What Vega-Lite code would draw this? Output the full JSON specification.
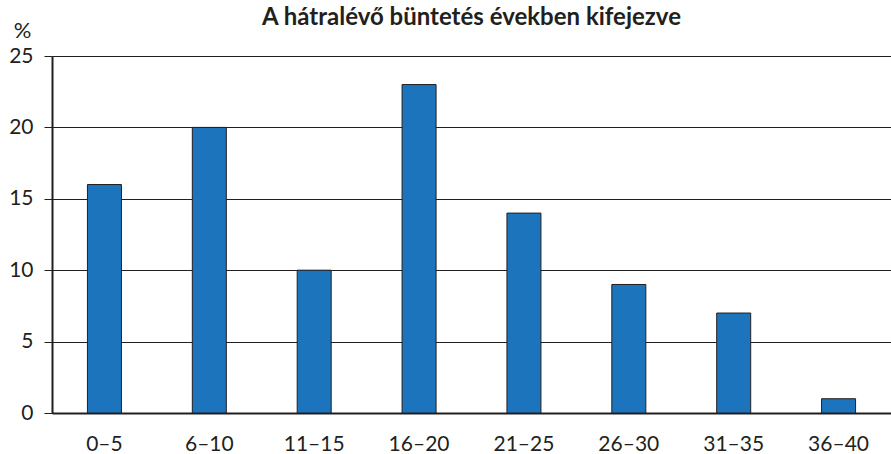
{
  "$schema": "https://vega.github.io/schema/vega-lite/v6.json",
  "width": 839,
  "height": 357,
  "autosize": {"type": "none"},
  "padding": {"left": 52, "top": 56, "right": 0, "bottom": 41},
  "background": "white",
  "title": {
    "text": "A hátralévő büntetés években kifejezve",
    "font": "Lato",
    "fontSize": 24,
    "fontWeight": "bold",
    "color": "#231f20",
    "anchor": "middle",
    "offset": 0,
    "dy": 11
  },
  "config": {
    "view": {"stroke": null},
    "axis": {"labelFont": "Lato", "titleFont": "Lato", "labelColor": "#231f20", "titleColor": "#231f20"}
  },
  "data": {
    "values": [
      {"range": "0–5", "pct": 16},
      {"range": "6–10", "pct": 20},
      {"range": "11–15", "pct": 10},
      {"range": "16–20", "pct": 23},
      {"range": "21–25", "pct": 14},
      {"range": "26–30", "pct": 9},
      {"range": "31–35", "pct": 7},
      {"range": "36–40", "pct": 1}
    ]
  },
  "mark": {"type": "bar", "width": 34, "color": "#1c75bc", "stroke": "#231f20", "strokeWidth": 1},
  "encoding": {
    "x": {
      "field": "range",
      "type": "nominal",
      "sort": null,
      "axis": {
        "title": null,
        "labelAngle": 0,
        "labelFontSize": 21,
        "labelPadding": 20,
        "ticks": false,
        "domainColor": "#231f20",
        "domainWidth": 2,
        "labelBaseline": "top"
      }
    },
    "y": {
      "field": "pct",
      "type": "quantitative",
      "scale": {"domain": [0, 25]},
      "axis": {
        "title": "%",
        "titleAngle": 0,
        "titleFontSize": 22,
        "titleFontWeight": "normal",
        "titleX": -30,
        "titleY": -19,
        "titleAlign": "center",
        "titleBaseline": "alphabetic",
        "values": [0, 5, 10, 15, 20, 25],
        "labelFontSize": 21,
        "labelPadding": 11,
        "tickSize": 8,
        "tickColor": "#231f20",
        "tickWidth": 1,
        "domainColor": "#231f20",
        "domainWidth": 2,
        "grid": true,
        "gridColor": "#231f20",
        "gridWidth": 1,
        "gridOpacity": 1
      }
    }
  }
}
